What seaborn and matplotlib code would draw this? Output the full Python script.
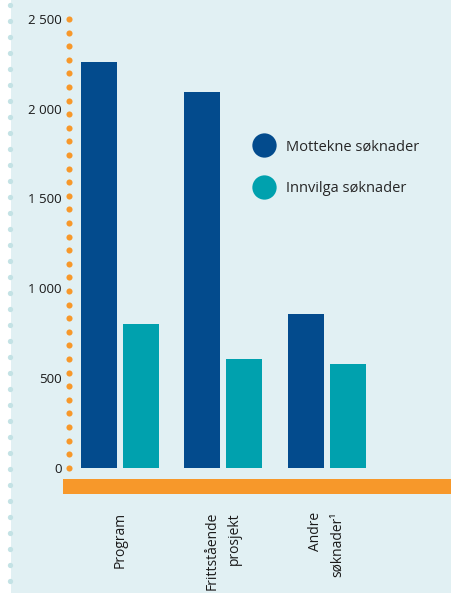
import numpy as np
import pandas as pd
import matplotlib.pyplot as plt
import seaborn as sns
from matplotlib.lines import Line2D

# data
categories = ["Program", "Frittstående\nprosjekt", "Andre\nsøknader¹"]
mottekne = [2260, 2093, 856]
innvilga = [800, 606, 578]
series_names = ["Mottekne søknader", "Innvilga søknader"]
yticks = [0, 500, 1000, 1500, 2000, 2500]

df = pd.DataFrame({
    "kategori": categories * 2,
    "serie": [series_names[0]] * 3 + [series_names[1]] * 3,
    "antal": mottekne + innvilga,
})

sns.set_style("white")
plt.rcParams['font.family'] = ['Open Sans', 'DejaVu Sans']

bg = "#e1f0f3"
dark = "#034b8d"
teal = "#00a1ae"
orange = "#f7982a"

fig = plt.figure(figsize=(4.52, 5.93), dpi=100)
fig.patch.set_facecolor(bg)

# white strip with light dots at the left edge
strip = fig.add_axes([0, 0, 11 / 452, 1])
strip.set_xlim(0, 11)
strip.set_ylim(593, 0)
strip.add_patch(plt.Rectangle((0, 0), 11, 593, color="white", zorder=0))
strip.plot(np.full(37, 10), np.arange(5, 593, 16), "o", ms=3.8, color="#c3e2e5",
           clip_on=False, mec="none")
strip.axis("off")

# main axes
ax = fig.add_axes([63 / 452, 99 / 593, 389 / 452, 484 / 593])
ax.set_facecolor(bg)
sns.barplot(data=df, x="kategori", y="antal", hue="serie", hue_order=series_names,
            palette=[dark, teal], width=0.812, gap=0.143, saturation=1,
            linewidth=0, edgecolor="none", legend=False, ax=ax, zorder=3)

ylow = -146.5
ax.set_ylim(ylow, 2550)
ax.set_xlim(-0.55, 3.21)

# orange band under the bars
ax.axhspan(ylow, -63, color=orange, lw=0, zorder=2)

# dotted orange y axis
ax.plot(np.full(34, -0.492), np.linspace(0, 2500, 34), "o", ms=4.4, color=orange,
        mec="none", clip_on=False, zorder=4)

for s in ax.spines.values():
    s.set_visible(False)

ax.set_yticks(yticks)
ax.set_yticklabels([f"{v:,}".replace(",", " ") for v in yticks])
ax.tick_params(axis="y", length=0, pad=1, labelsize=9.5, labelcolor="#1a1a1a")
ax.tick_params(axis="x", length=0, pad=13, labelsize=10, labelcolor="#1a1a1a")
for lab in ax.get_xticklabels():
    lab.set_rotation(90)
    lab.set_multialignment("right")
    lab.set_linespacing(1.65)
ax.set_xlabel("")
ax.set_ylabel("")

handles = [Line2D([], [], ls="none", marker="o", ms=17.5, color=c, mec="none")
           for c in (dark, teal)]
ax.legend(handles, series_names, frameon=False, loc="center left",
          bbox_to_anchor=(0.462, 0.674), fontsize=10.5, labelspacing=1.85,
          handlelength=1.1, handletextpad=0.95, borderpad=0.4)

fig.savefig("out.png", dpi=100, facecolor=fig.get_facecolor())
